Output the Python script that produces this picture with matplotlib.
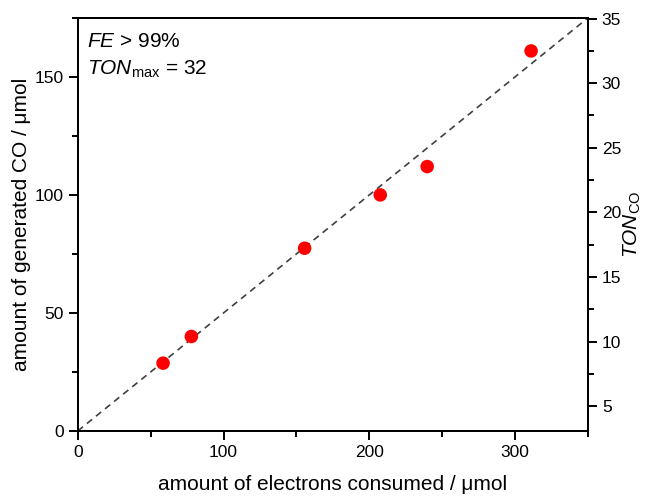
import matplotlib
matplotlib.use("Agg")
import matplotlib.pyplot as plt
from matplotlib.ticker import MultipleLocator

plt.rcParams['font.family'] = ['Liberation Sans', 'DejaVu Sans']
plt.rcParams['mathtext.fontset'] = 'custom'
plt.rcParams['mathtext.rm'] = 'Liberation Sans'
plt.rcParams['mathtext.it'] = 'Liberation Sans:italic'

# Data
electrons = [58.5, 77.9, 155.6, 207.5, 239.7, 311.0]
co_amount = [28.7, 40.0, 77.4, 100.0, 112.0, 161.0]
fit_x = [0, 350]
fit_y = [0, 175]

fig = plt.figure(figsize=(6.54, 4.97), dpi=100)
ax1 = fig.add_axes([0.119, 0.133, 0.780, 0.831])

ax1.plot(fit_x, fit_y, linestyle=(0, (4, 3)), color='#404040', linewidth=1.2, zorder=2)
ax1.scatter(electrons, co_amount, s=95, color='#ff0000', edgecolors='none', zorder=3)

ax1.set_xlim(0, 350)
ax1.set_ylim(0, 175)
ax1.xaxis.set_major_locator(MultipleLocator(100))
ax1.xaxis.set_minor_locator(MultipleLocator(50))
ax1.yaxis.set_major_locator(MultipleLocator(50))
ax1.yaxis.set_minor_locator(MultipleLocator(25))
ax1.tick_params(which='both', direction='out', width=1.4, labelsize=12.5, top=False, right=False)
ax1.tick_params(which='major', length=6.5)
ax1.tick_params(which='minor', length=4)
ax1.set_xlabel('amount of electrons consumed / μmol', fontsize=15, labelpad=11)
ax1.set_ylabel('amount of generated CO / μmol', fontsize=15, labelpad=3)
for s in ax1.spines.values():
    s.set_linewidth(1.4)

# Right axis: TON
ax2 = ax1.twinx()
ax2.set_ylim(3.1, 35.05)
ax2.yaxis.set_major_locator(MultipleLocator(5))
ax2.yaxis.set_minor_locator(MultipleLocator(2.5))
ax2.tick_params(which='both', direction='out', width=1.4, labelsize=12.5)
ax2.tick_params(which='major', length=6.5)
ax2.tick_params(which='minor', length=4)
ax2.set_ylabel(r'$\mathit{TON}_{\mathrm{CO}}$', fontsize=15, labelpad=0)
for s in ax2.spines.values():
    s.set_linewidth(1.4)

ax1.text(0.018, 0.965, r'$\mathit{FE}$ > 99%', transform=ax1.transAxes,
         fontsize=15, va='top', ha='left')
ax1.text(0.018, 0.9, r'$\mathit{TON}_{\mathrm{max}}$ = 32', transform=ax1.transAxes,
         fontsize=15, va='top', ha='left')

plt.savefig("out.png", dpi=100)
